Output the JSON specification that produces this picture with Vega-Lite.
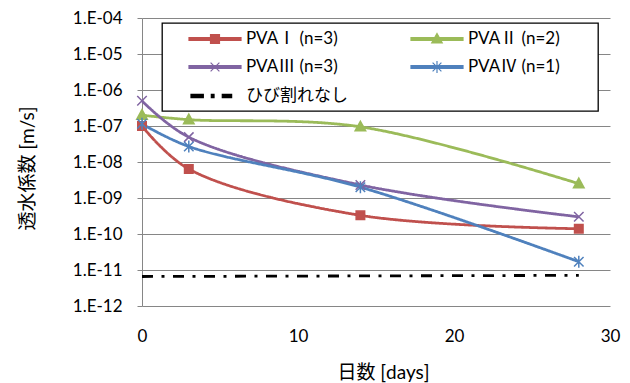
{
  "$schema": "https://vega.github.io/schema/vega-lite/v6.json",
  "width": 468,
  "height": 288,
  "autosize": {"type": "none"},
  "padding": {"left": 142, "top": 18, "right": 20, "bottom": 77},
  "background": "white",
  "config": {
    "font": "Lato, Noto Sans CJK JP",
    "view": {"stroke": null},
    "axis": {"labelColor": "black", "titleColor": "black", "titleFontWeight": "normal", "labelFontSize": 17, "titleFontSize": 19},
    "legend": {
      "strokeWidth": 1.3, "title": null, "orient": "none", "legendX": 20, "legendY": 5,
      "direction": "horizontal",
      "columns": 2, "columnPadding": 22, "rowPadding": 11, "padding": 7,
      "symbolSize": 256, "symbolStrokeWidth": 1.2, "symbolOpacity": 1, "symbolOffset": 37,
      "labelFontSize": 17, "labelColor": "black", "labelOffset": 22, "labelLimit": 300,
      "fillColor": "white", "strokeColor": "black"
    }
  },
  "data": {
    "values": [
      {"series": "PVAⅠ (n=3)", "day": 0, "k": 1.0e-7},
      {"series": "PVAⅠ (n=3)", "day": 3, "k": 6.4e-9},
      {"series": "PVAⅠ (n=3)", "day": 14, "k": 3.3e-10},
      {"series": "PVAⅠ (n=3)", "day": 28, "k": 1.4e-10},
      {"series": "PVAⅡ (n=2)", "day": 0, "k": 2.0e-7},
      {"series": "PVAⅡ (n=2)", "day": 3, "k": 1.5e-7},
      {"series": "PVAⅡ (n=2)", "day": 14, "k": 9.5e-8},
      {"series": "PVAⅡ (n=2)", "day": 28, "k": 2.5e-9},
      {"series": "PVAⅢ (n=3)", "day": 0, "k": 5.0e-7},
      {"series": "PVAⅢ (n=3)", "day": 3, "k": 4.9e-8},
      {"series": "PVAⅢ (n=3)", "day": 14, "k": 2.3e-9},
      {"series": "PVAⅢ (n=3)", "day": 28, "k": 3.0e-10},
      {"series": "PVAⅣ (n=1)", "day": 0, "k": 1.15e-7},
      {"series": "PVAⅣ (n=1)", "day": 3, "k": 2.7e-8},
      {"series": "PVAⅣ (n=1)", "day": 14, "k": 2.0e-9},
      {"series": "PVAⅣ (n=1)", "day": 28, "k": 1.7e-11},
      {"series": "ひび割れなし", "day": 0, "k": 6.6e-12},
      {"series": "ひび割れなし", "day": 28, "k": 7.1e-12}
    ]
  },
  "encoding": {
    "x": {
      "field": "day", "type": "quantitative",
      "scale": {"domain": [0, 30], "nice": false},
      "axis": {"values": [0, 10, 20, 30], "title": "日数 [days]", "grid": false, "ticks": false, "domain": false, "labelFlush": false, "labelPadding": 22, "titleX": 241, "titleY": 66, "titleBaseline": "middle", "titleAlign": "center"}
    },
    "y": {
      "field": "k", "type": "quantitative",
      "scale": {"type": "log", "domain": [1e-12, 1e-4], "nice": false},
      "axis": {
        "values": [1e-12, 1e-11, 1e-10, 1e-9, 1e-8, 1e-7, 1e-6, 1e-5, 1e-4],
        "labelExpr": "'1.E-' + format(-round(log(datum.value)/LN10), '02d')",
        "grid": true, "gridColor": "#868686", "domainColor": "#868686", "tickColor": "#868686",
        "tickSize": 5, "labelPadding": 15, "labelFlush": false,
        "title": "透水係数 [m/s]", "titleX": -115, "titleY": 150, "titleAngle": -90, "titleAlign": "center", "titleBaseline": "middle"
      }
    }
  },
  "layer": [
    {
      "mark": {"type": "line", "interpolate": "catmull-rom", "strokeWidth": 2.8},
      "encoding": {
        "color": {"field": "series", "type": "nominal", "legend": null,
          "scale": {"domain": ["PVAⅠ (n=3)", "PVAⅡ (n=2)", "PVAⅢ (n=3)", "PVAⅣ (n=1)", "ひび割れなし"],
                    "range": ["#C0504D", "#9BBB59", "#8064A2", "#4F81BD", "#000000"]}},
        "strokeDash": {"field": "series", "type": "nominal", "legend": null,
          "scale": {"domain": ["PVAⅠ (n=3)", "PVAⅡ (n=2)", "PVAⅢ (n=3)", "PVAⅣ (n=1)", "ひび割れなし"],
                    "range": [[1, 0], [1, 0], [1, 0], [1, 0], [11, 8.5, 3, 8.5]]}}
      }
    },
    {
      "transform": [{"filter": "datum.series !== 'ひび割れなし'"}],
      "mark": {"type": "point", "filled": true, "size": 100, "strokeWidth": 1.5, "opacity": 1},
      "encoding": {
        "color": {"field": "series", "type": "nominal", "legend": null},
        "stroke": {"field": "series", "type": "nominal", "legend": null,
          "scale": {"domain": ["PVAⅠ (n=3)", "PVAⅡ (n=2)", "PVAⅢ (n=3)", "PVAⅣ (n=1)"],
                    "range": ["#C0504D", "#9BBB59", "#8064A2", "#4F81BD"]}},
        "shape": {"field": "series", "type": "nominal", "legend": null,
          "scale": {"domain": ["PVAⅠ (n=3)", "PVAⅡ (n=2)", "PVAⅢ (n=3)", "PVAⅣ (n=1)"],
                    "range": ["M-0.85,-0.85H0.85V0.85H-0.85Z", "M0,-1.1L1.05,0.8H-1.05Z", "M-0.95,-0.95L0.95,0.95M-0.95,0.95L0.95,-0.95", "M-0.95,-0.95L0.95,0.95M-0.95,0.95L0.95,-0.95M0,-1.2V1.2"]}}
      }
    },
    {
      "transform": [{"filter": "datum.day > 1000"}],
      "mark": {"type": "point", "filled": true, "size": 256, "opacity": 1},
      "encoding": {
        "fill": {"field": "series", "type": "nominal",
          "scale": {"domain": ["PVAⅠ (n=3)", "PVAⅡ (n=2)", "PVAⅢ (n=3)", "PVAⅣ (n=1)", "ひび割れなし"],
                    "range": ["#C0504D", "#9BBB59", "#8064A2", "#4F81BD", "#000000"]},
          "legend": {"title": null}},
        "stroke": {"field": "series", "type": "nominal",
          "scale": {"domain": ["PVAⅠ (n=3)", "PVAⅡ (n=2)", "PVAⅢ (n=3)", "PVAⅣ (n=1)", "ひび割れなし"],
                    "range": ["#C0504D", "#9BBB59", "#8064A2", "#4F81BD", "#000000"]},
          "legend": {"title": null}},
        "shape": {
          "field": "series", "type": "nominal",
          "scale": {
            "domain": ["PVAⅠ (n=3)", "PVAⅡ (n=2)", "PVAⅢ (n=3)", "PVAⅣ (n=1)", "ひび割れなし"],
            "range": [
              "M18.9,0M-3.25,-0.17H3.25V0.17H-3.25ZM-0.56,-0.56H0.56V0.56H-0.56Z",
              "M18.9,0M-3.25,-0.17H3.25V0.17H-3.25ZM0,-0.68L0.66,0.5H-0.66Z",
              "M18.9,0M-3.25,-0.17H3.25V0.17H-3.25ZM-0.55,-0.55L0.55,0.55M-0.55,0.55L0.55,-0.55",
              "M18.9,0M-3.25,-0.17H3.25V0.17H-3.25ZM-0.55,-0.55L0.55,0.55M-0.55,0.55L0.55,-0.55M0,-0.75V0.75",
              "M18.9,0M-3,-0.2H-1.46V0.2H-3ZM-0.46,-0.2H-0.12V0.2H-0.46ZM0.91,-0.2H2.08V0.2H0.91Z"
            ]
          },
          "legend": {"title": null}
        }
      }
    }
  ],
  "resolve": {"scale": {"shape": "independent", "stroke": "independent", "fill": "independent"}}
}
